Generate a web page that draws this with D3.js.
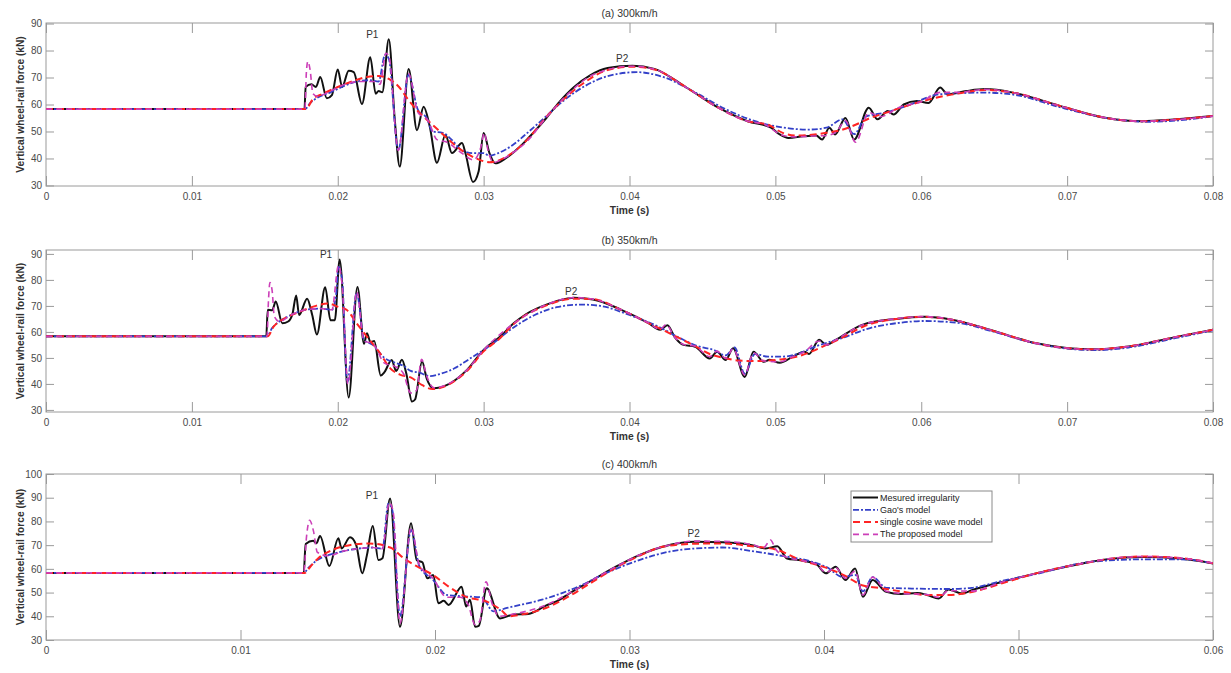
<!DOCTYPE html>
<html><head><meta charset="utf-8">
<script src="https://cdn.jsdelivr.net/npm/d3@7"></script>
<style>
body{margin:0;background:#fff}
svg{display:block}
text{font-family:"Liberation Sans",Arial,Helvetica,sans-serif}
</style>
</head><body>
<svg id="chart" width="1231" height="673"></svg>
<script>
// ---------------- DATA (time in ms, force in kN) ----------------
const panelTitles = ["(a) 300km/h", "(b) 350km/h", "(c) 400km/h"];
const seriesNames = ["Mesured irregularity", "Gao's model", "single cosine wave model", "The proposed model"];
const xTicksAB = [0, 0.01, 0.02, 0.03, 0.04, 0.05, 0.06, 0.07, 0.08];
const xTicksC = [0, 0.01, 0.02, 0.03, 0.04, 0.05, 0.06];
const yTicksAB = [30, 40, 50, 60, 70, 80, 90];
const yTicksC = [30, 40, 50, 60, 70, 80, 90, 100];
const xLabel = "Time (s)";
const yLabel = "Vertical wheel-rail force (kN)";
const peakNames = ["P1", "P2"];
const peaksA = [[22.37, 85.8], [39.5, 76.9]];
const peaksB = [[19.2, 89.6], [36.0, 75.7]];
const peaksC = [[16.76, 91.1], [33.3, 75.1]];

// (a) 300 km/h
const a_measured = [[0,58.3],[17.72,58.3],[17.8,66.5],[18.2,67.5],[18.5,66.5],[18.8,70.2],[19.25,62.3],[19.6,63.5],[20.0,73.0],[20.3,66.5],[20.75,72.5],[21.1,72],[21.66,60.2],[22.23,77.5],[22.6,64],[22.8,65],[23.05,64.5],[23.5,84.2],[23.9,55],[24.25,37],[24.86,73.2],[25.43,50.5],[25.89,59.2],[26.3,52],[26.8,38.4],[27.38,48.8],[27.83,42],[28.52,45.7],[28.75,42],[29.27,31.3],[29.66,35.3],[30.0,49.4],[30.4,42],[30.8,38.2],[31.5,40],[32.1,42.5],[32.7,45.5],[33.4,49.5],[34.3,55],[35.2,61],[36.2,66.5],[37.3,70.8],[38.5,73.5],[40.2,74.4],[41.7,73.2],[43.9,66.3],[46.1,58.8],[48.1,53.8],[49.7,51.4],[50.3,48.9],[50.9,47.6],[51.9,48.2],[52.8,48.5],[53.2,47],[53.7,51.4],[54.1,48.9],[54.8,55],[55.4,47],[56.4,58.8],[57.0,54.5],[57.7,57.6],[58.1,56.3],[58.8,60],[59.7,61.3],[60.5,60.6],[61.3,66.3],[61.8,63.8],[63.1,65],[64.4,65.7],[66.3,64.4],[69.5,59.5],[72.7,55],[75.1,53.8],[77.5,54.5],[80,55.7]];
const a_gao = [[0,58.3],[17.75,58.3],[18.1,60.5],[18.6,62.5],[19.5,64.5],[20.5,67],[21.3,68.5],[22.2,69],[22.8,68.5],[23.25,78.5],[23.5,77],[24.15,43],[24.85,71],[25.5,58],[26.1,55],[26.5,50],[27.2,49.5],[27.8,47],[28.5,43],[29.3,42],[30.0,42],[30.4,41],[31.0,42],[32.0,45],[33.0,49.5],[34.3,55.7],[35.5,61.5],[37,67],[38.5,70.5],[40.5,72],[42.3,70.2],[44.5,64.5],[46.5,58.5],[48.5,54],[50.5,51.5],[52.2,50.7],[53.5,51.4],[54.6,54.5],[55.4,49],[56.2,55.5],[57.5,57],[59,59.5],[61.3,63.8],[64.4,64.4],[66.5,63.5],[69.5,59],[72.7,55],[75.5,53.6],[78,54.3],[80,55.7]];
const a_cosine = [[0,58.3],[17.8,58.3],[18.3,62],[19,64],[20,66.5],[21,68.6],[22,70.2],[22.8,70.6],[23.5,69.5],[24.2,66.5],[24.8,62],[25.5,57.5],[26.5,52.5],[27.5,47.5],[28.5,43],[29.5,40],[30.4,38.6],[31,39.2],[32,42.2],[33,47],[34.3,55.4],[35.5,62],[37,68.5],[38.5,72.8],[40.2,74],[41.7,73],[43.9,66.3],[46.1,58.8],[48.1,53.8],[49.5,52.5],[50.5,49.5],[51.5,48.5],[52.5,48.8],[53.5,49.5],[54.5,50.5],[55.5,52.5],[56.5,55],[57.5,56.8],[59,59.5],[61,62.5],[63,64.5],[64.4,65.4],[66.3,64.4],[69.5,59.5],[72.7,55],[75.1,53.8],[77.5,54.5],[80,55.7]];
const a_proposed = [[0,58.3],[17.75,58.3],[17.85,72],[17.95,76],[18.1,73],[18.3,64],[18.6,63],[19.5,65],[20.5,67.5],[21.5,68.5],[22.5,68.5],[22.9,67.5],[23.3,79],[23.5,78],[24.15,43],[24.85,71.5],[25.5,57],[26.2,54],[26.8,47],[27.5,46],[28.5,42],[29.3,39.5],[29.8,44],[30.05,49.5],[30.3,43],[30.7,38.5],[31.2,39.5],[32.1,42.5],[33,46.5],[34.3,55.2],[35.9,64.5],[37.5,71],[40.2,74.2],[41.7,73.1],[43.9,66.3],[46.1,58.8],[48.1,53.8],[49.3,52.5],[50.3,49],[51.2,48],[52.5,48.3],[53.5,48.5],[54.2,50],[54.8,54],[55.5,46],[56.4,57],[57.2,55.5],[58.5,59],[60,61],[61.3,64.5],[62.5,64.5],[64.4,65.6],[66.3,64.4],[69.5,59.5],[72.7,55],[75.1,53.8],[77.5,54.4],[80,55.7]];

// (b) 350 km/h
const b_measured = [[0,58.3],[15.1,58.3],[15.2,68.5],[15.5,68.3],[15.75,71.7],[16.2,63.3],[16.6,64],[16.9,67],[17.15,74],[17.35,66.5],[17.9,72.8],[18.25,66.5],[18.57,59],[19.14,77.2],[19.5,64.5],[19.8,64.5],[20.13,87.8],[20.75,34.8],[21.35,77.3],[21.8,55.4],[22.0,59.5],[22.25,56],[22.5,56.5],[22.95,43.2],[23.2,44.5],[23.7,49.2],[24.0,45],[24.4,49.3],[24.7,44],[25.09,33.2],[25.3,34],[25.78,48.6],[26.1,42],[26.58,38.3],[27.5,39.6],[28.86,45.4],[30,53.1],[31.1,58],[32.06,63.3],[32.9,66.8],[34.35,70.6],[36.2,73.1],[37.5,72.5],[39.4,68.6],[41.3,63.4],[42.1,60.8],[42.6,62.6],[43.1,58],[43.7,55],[44.5,54.3],[45.5,49.8],[46.0,52.4],[46.6,49.2],[47.1,53.7],[47.9,42.7],[48.5,52.4],[49.2,48.5],[49.6,49.3],[50.3,48.1],[51.2,50.5],[52.0,52.4],[52.3,51.5],[53.0,57],[53.5,55],[54.1,56.8],[56,62.8],[58.3,65],[60.2,65.8],[62.1,64.7],[64.7,60.8],[67.9,55.6],[70.1,53.7],[71.7,53.3],[74.2,54.4],[77.4,58],[80,60.8]];
const b_gao = [[0,58.3],[15.15,58.3],[15.5,61.5],[16,64],[16.8,66.5],[17.8,68.5],[18.8,69],[19.6,68.5],[19.9,75],[20.05,85],[20.3,80],[20.65,40.5],[21.3,75],[21.8,57],[22.4,55],[23.2,50],[24,48],[24.5,47],[25,45],[25.6,44.3],[26.3,43],[27,43.8],[28,46],[29,49.5],[30.5,55],[32,61.5],[33.5,66.5],[35,69.5],[36.7,70.5],[38,70],[40,66.5],[42,62],[43.5,57.5],[44.7,54.5],[45.8,53],[46.6,51],[47.2,54],[47.9,44],[48.6,51.5],[49.5,50.5],[50.5,50.5],[51.5,51.5],[52.8,54.5],[54.5,57.5],[56.5,61.5],[58.5,63.5],[60.2,64.2],[62.5,63.5],[64.7,60.5],[67.9,55.5],[70.5,53.3],[72,53],[74.2,54],[77.4,57.6],[80,60.6]];
const b_cosine = [[0,58.3],[15.2,58.3],[15.6,62],[16.3,65],[17.5,68],[18.5,70],[19.3,70.9],[20.1,69.5],[20.6,68.5],[21.3,63.3],[22.0,58.2],[22.9,51.8],[23.6,46],[24.3,43.5],[25,42.5],[25.8,39.5],[26.5,38],[27.5,39.5],[28.86,45],[30,52.5],[31.1,57.5],[32.06,63],[34.35,70.3],[36.2,72.8],[37.5,72.6],[39.4,68.6],[41.3,63.4],[43.1,58.5],[44.5,54.5],[45.5,51.5],[46.5,50],[47.5,49],[48.5,48.8],[49.5,49],[50.5,49.5],[51.5,50.5],[52.5,52.5],[53.5,55],[54.5,57.5],[56,62],[58.3,65],[60.2,65.8],[62.1,64.7],[64.7,60.8],[67.9,55.6],[70.1,53.7],[71.7,53.3],[74.2,54.4],[77.4,58],[80,60.8]];
const b_proposed = [[0,58.3],[15.15,58.3],[15.25,72],[15.35,79],[15.5,76],[15.65,66],[16,64],[16.8,66.5],[17.8,68.5],[18.8,69],[19.6,68.5],[20.05,85.5],[20.3,78],[20.7,40],[21.3,75.5],[21.8,56.5],[22.4,55.5],[23.2,48],[24,46.5],[24.5,44],[25,36.5],[25.4,37.5],[25.75,49.5],[26.1,43],[26.6,38.5],[27.5,39.8],[28.86,45.4],[30,53],[32.06,63.2],[34.35,70.6],[36.2,73.2],[37.5,72.6],[39.4,68.6],[41.3,63.4],[42.1,61],[42.5,62.8],[43.1,58],[43.7,55.2],[44.5,54.5],[45.5,50.5],[46.0,52.6],[46.6,49.8],[47.1,53.5],[47.9,43.5],[48.5,52],[49.2,48.8],[50.3,48.5],[51.2,50.5],[52.0,52.4],[53.0,56.5],[53.5,55],[54.1,56.8],[56,62.8],[58.3,65.1],[60.2,65.9],[62.1,64.8],[64.7,60.8],[67.9,55.6],[70.1,53.7],[71.7,53.3],[74.2,54.4],[77.4,58],[80,60.8]];

// (c) 400 km/h
const c_measured = [[0,58.3],[13.25,58.3],[13.35,70.5],[13.74,71.8],[13.9,70.8],[14.09,73.9],[14.57,61.2],[15.03,72.9],[15.2,68.6],[15.63,73.3],[15.95,70],[16.26,58.1],[16.5,65.8],[16.8,78.1],[17.09,63.7],[17.3,64.5],[17.69,89.7],[18.2,35.6],[18.77,79.2],[19.06,63.7],[19.35,62.8],[19.6,56],[19.91,57.4],[20.17,45.5],[20.45,46.5],[20.7,44.8],[21.37,52.5],[21.6,44.1],[21.8,47],[22.06,35.6],[22.25,36],[22.66,51.8],[23.34,39.1],[24.05,40.8],[24.8,41],[25.7,44.5],[26.3,46.5],[26.9,49.6],[28.1,55.3],[29.3,60.9],[30.5,65.8],[31.7,69.3],[33.4,71.4],[34.8,71.2],[36.3,70],[37.0,68.6],[37.6,69.5],[38.1,64.4],[38.7,63.7],[39.6,62],[40.1,58.1],[40.6,60.9],[41.1,55.3],[41.6,60.2],[42.0,48.2],[42.5,55.3],[43.2,50.3],[43.96,49.4],[44.8,49.8],[45.3,49],[45.9,47.5],[46.4,51.3],[47.1,49.6],[47.6,51],[49.2,54.6],[50.9,58.1],[53.3,62.3],[54.5,64],[56.4,65],[58.3,64.4],[60,62.3]];
const c_gao = [[0,58.3],[13.25,58.3],[13.5,60.5],[14.0,64],[14.6,66],[15.3,67.5],[16,68.5],[16.8,69],[17.3,68.5],[17.6,87.5],[17.8,85],[18.2,40],[18.77,76.4],[19.2,61],[19.9,55.4],[20.6,49],[21.5,48.4],[22.4,48],[23,42.1],[23.7,43.5],[24.5,45],[25.5,47],[26.6,50],[27.5,53],[28.6,57.5],[30.5,63.7],[32,67.2],[33.4,68.6],[34.8,69],[36.3,67.5],[37.6,65.8],[39.3,63.2],[40.1,60.9],[41,56.5],[41.6,57.5],[42.0,50.5],[42.5,56.5],[43.2,52],[44.5,51.7],[46.5,51.5],[47.6,52],[49.2,55],[51,58],[53.3,62.5],[55,63.7],[56.4,64],[58.3,64],[60,62.3]];
const c_cosine = [[0,58.3],[13.3,58.3],[13.6,61],[14,64.5],[14.7,67.9],[15.6,70],[16.6,70.7],[17.7,69],[18.4,64.4],[19.1,60.9],[19.9,57.4],[20.7,52.5],[21.6,48.2],[22.7,46.1],[23.4,42.6],[23.8,40],[24.5,40.8],[25.7,43.5],[26.9,48.5],[28.1,54.5],[29.3,60.5],[30.5,65.5],[31.7,69.3],[33.4,70.6],[34.8,70.7],[36.3,69.5],[37.6,68],[38.7,64],[40.1,60.5],[41.1,57],[42.0,53],[42.8,52],[43.96,50.5],[45.3,49],[46.4,49],[47.6,50.2],[49.2,54],[50.9,58.1],[53.3,62.3],[54.5,64],[56.4,65.2],[58.3,64.6],[60,62.4]];
const c_proposed = [[0,58.3],[13.25,58.3],[13.4,74],[13.55,80.5],[13.75,76],[13.95,67],[14.5,65.5],[15.3,67.5],[16,68.5],[16.8,69],[17.3,68.5],[17.65,88],[17.85,84],[18.2,37],[18.77,77.5],[19.2,61.5],[19.9,56],[20.6,48],[21.3,48],[21.7,45],[22.06,36.5],[22.3,38],[22.62,54.5],[22.95,45],[23.3,40],[24.05,41],[25.7,44.7],[26.9,49.7],[28.1,55.3],[29.3,60.9],[30.5,65.8],[31.7,69.3],[33.4,71.7],[34.8,71.6],[36.3,70.2],[36.9,69],[37.25,72.2],[37.5,68.5],[38.1,64.8],[38.7,63.7],[39.6,62],[40.1,58.5],[40.6,60.5],[41.1,56],[41.6,59],[42.0,49],[42.5,56.5],[43.2,50.6],[43.96,49.6],[45.3,49.2],[45.9,48],[46.4,50.8],[47.6,50.6],[49.2,54.6],[50.9,58.1],[53.3,62.3],[54.5,64.1],[56.4,65.2],[58.3,64.6],[60,62.4]];

// ---------------- LAYOUT / STYLE ----------------
const panels = [
  {title: panelTitles[0], xTicks: xTicksAB, yTicks: yTicksAB, ydom: [29.8, 90.2], top: 23, bottom: 186,
   series: [a_measured, a_gao, a_cosine, a_proposed], peaks: peaksA, legend: false},
  {title: panelTitles[1], xTicks: xTicksAB, yTicks: yTicksAB, ydom: [29.2, 91.5], top: 250, bottom: 412,
   series: [b_measured, b_gao, b_cosine, b_proposed], peaks: peaksB, legend: false},
  {title: panelTitles[2], xTicks: xTicksC, yTicks: yTicksC, ydom: [30, 100], top: 474, bottom: 640,
   series: [c_measured, c_gao, c_cosine, c_proposed], peaks: peaksC, legend: true}
];
const left = 46, right = 1213;
const styles = [
  {color: "#111111", width: 2.0, dash: null},
  {color: "#3340c8", width: 1.8, dash: "6,2,2,2"},
  {color: "#ff2424", width: 2.0, dash: "7,4"},
  {color: "#cc3fb8", width: 1.6, dash: "6,4"}
];
const axisColor = "#9a9a9a";
const textColor = "#4a4a4a";

const svg = d3.select("#chart");

panels.forEach((p, pi) => {
  const xmax = p.xTicks[p.xTicks.length - 1];
  const x = d3.scaleLinear().domain([0, xmax]).range([left, right]);
  const y = d3.scaleLinear().domain(p.ydom).range([p.bottom, p.top]);
  const g = svg.append("g");

  const clipId = "clip" + pi;
  svg.append("defs").append("clipPath").attr("id", clipId)
    .append("rect").attr("x", left).attr("y", p.top).attr("width", right - left).attr("height", p.bottom - p.top);

  // axes
  const fmtX = d => d === 0 ? "0" : d3.format(".2f")(d);
  const ax = g.append("g").attr("transform", `translate(0,${p.bottom})`)
    .call(d3.axisBottom(x).tickValues(p.xTicks).tickFormat(fmtX).tickSizeInner(-10).tickSizeOuter(0).tickPadding(7));
  const axT = g.append("g").attr("transform", `translate(0,${p.top})`)
    .call(d3.axisTop(x).tickValues(p.xTicks).tickFormat("").tickSizeInner(-10).tickSizeOuter(0));
  const ay = g.append("g").attr("transform", `translate(${left},0)`)
    .call(d3.axisLeft(y).tickValues(p.yTicks).tickFormat(d3.format("d")).tickSizeInner(-8).tickSizeOuter(0).tickPadding(4));
  const ayR = g.append("g").attr("transform", `translate(${right},0)`)
    .call(d3.axisRight(y).tickValues(p.yTicks).tickFormat("").tickSizeInner(-8).tickSizeOuter(0));
  [ax, axT, ay, ayR].forEach(a => {
    a.select(".domain").remove();
    a.selectAll(".tick line").attr("stroke", axisColor).attr("stroke-width", 1);
    a.selectAll(".tick text").attr("fill", textColor).style("font-size", "10px");
  });
  g.append("rect").attr("x", left).attr("y", p.top).attr("width", right - left).attr("height", p.bottom - p.top)
    .attr("fill", "none").attr("stroke", axisColor).attr("stroke-width", 1);

  // titles and labels
  g.append("text").attr("x", (left + right) / 2).attr("y", p.top - 10).attr("text-anchor", "middle")
    .attr("dominant-baseline", "central").style("font-size", "10.5px").attr("fill", "#333").text(p.title);
  g.append("text").attr("x", (left + right) / 2).attr("y", p.bottom + 24).attr("text-anchor", "middle")
    .attr("dominant-baseline", "central").style("font-size", "10.3px").style("font-weight", "bold")
    .attr("fill", "#333").text(xLabel);
  g.append("text").attr("transform", `translate(20,${(p.top + p.bottom) / 2}) rotate(-90)`)
    .attr("text-anchor", "middle").attr("dominant-baseline", "central")
    .style("font-size", "10.2px").style("font-weight", "bold").attr("fill", "#333").text(yLabel);

  // lines
  const line = d3.line().x(d => x(d[0] / 1000)).y(d => y(d[1])).curve(d3.curveMonotoneX);
  const lg = g.append("g").attr("clip-path", `url(#${clipId})`);
  p.series.forEach((s, si) => {
    const st = styles[si];
    lg.append("path").datum(s).attr("d", line).attr("fill", "none")
      .attr("stroke", st.color).attr("stroke-width", st.width)
      .attr("stroke-dasharray", st.dash).attr("stroke-linejoin", "round");
  });

  // peak labels
  p.peaks.forEach((pk, k) => {
    g.append("text").attr("x", x(pk[0] / 1000)).attr("y", y(pk[1])).attr("text-anchor", "middle")
      .attr("dominant-baseline", "central").style("font-size", "10px").attr("fill", "#333").text(peakNames[k]);
  });

  // legend
  if (p.legend) {
    const lx = 851, ly = 491, lw = 141, lh = 51;
    const leg = g.append("g");
    leg.append("rect").attr("x", lx).attr("y", ly).attr("width", lw).attr("height", lh)
      .attr("fill", "#fff").attr("stroke", "#8a8a8a").attr("stroke-width", 1);
    seriesNames.forEach((name, i) => {
      const yy = ly + 6.5 + i * 12.3;
      const st = styles[i];
      leg.append("line").attr("x1", lx + 2).attr("x2", lx + 27).attr("y1", yy).attr("y2", yy)
        .attr("stroke", st.color).attr("stroke-width", st.width).attr("stroke-dasharray", st.dash);
      leg.append("text").attr("x", lx + 29).attr("y", yy).attr("dominant-baseline", "central")
        .style("font-size", "9px").attr("fill", "#222").text(name);
    });
  }
});
</script>
</body></html>
